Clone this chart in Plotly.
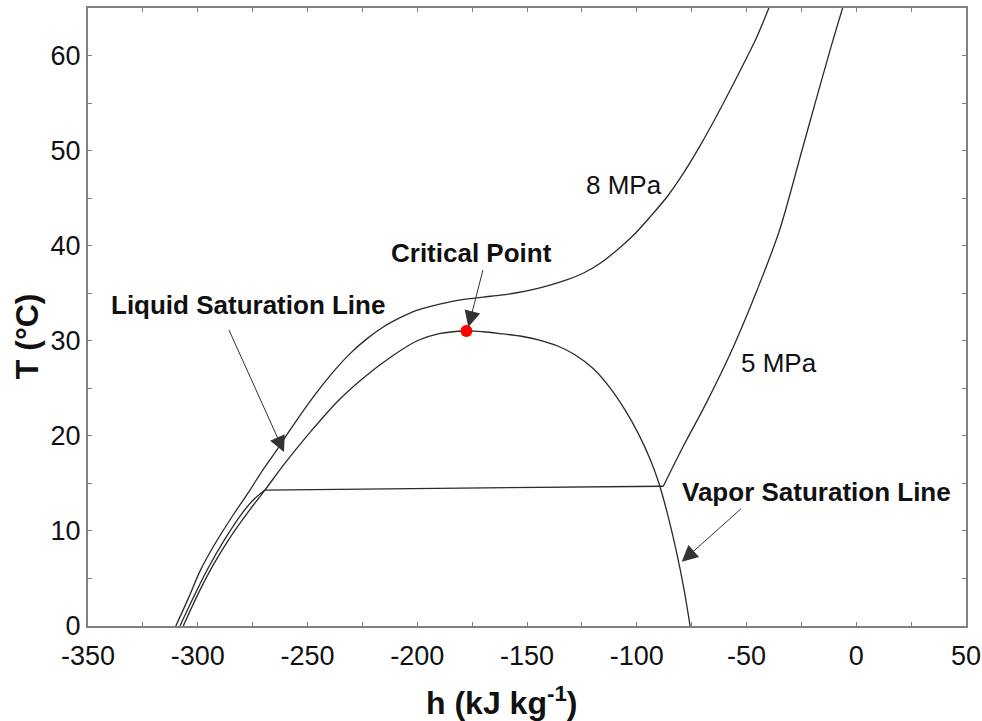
import plotly.graph_objects as go

# Saturation dome (liquid branch -> critical point -> vapor branch)
sat_h = [-306.6, -300, -293, -285, -277, -269.4, -260, -248, -236, -224, -212, -200, -190, -178,
         -170, -162.3, -152, -144, -136, -128, -120, -112, -105, -99, -94, -90, -86, -82,
         -78.5, -75.7]
sat_T = [0, 3.3, 6.4, 9.4, 12.0, 14.3, 17.2, 20.6, 23.7, 26.2, 28.3, 30.0, 30.75, 31.03,
         30.95, 30.76, 30.45, 30.05, 29.45, 28.5, 27.1, 25.0, 22.6, 20.1, 17.6, 15.1, 11.8, 7.9,
         3.9, 0]

# 8 MPa isobar
p8_h = [-310, -304.5, -298.7, -292, -283.8, -276.2, -270.4, -264, -258, -247, -238,
        -230.6, -223, -215.5, -208, -200.3, -192.5, -185.1, -177, -169.9, -162, -154.7, -147,
        -139.5, -132, -124.4, -117, -109.2, -101.5, -94, -86, -78.8, -71.2, -63.5, -56, -50.5,
        -45.4, -39.8]
p8_T = [0, 2.8, 5.9, 8.7, 11.7, 14.3, 16.4, 18.5, 20.6, 24.2, 26.8,
        28.65, 30.2, 31.45, 32.4, 33.2, 33.7, 34.1, 34.4, 34.6, 34.8, 35.05, 35.4,
        35.85, 36.4, 37.1, 38.1, 39.5, 41.1, 43.0, 45.2, 47.6, 50.5, 53.7, 57.0, 59.5,
        61.9, 65.0]

# 5 MPa isobar: liquid branch, two-phase segment, vapor branch
p5_liq_h = [-308.1, -302, -295.5, -288, -280, -274.5, -269.4]
p5_liq_T = [0, 3.0, 6.0, 9.0, 11.8, 13.3, 14.3]
p5_2ph_h = [-269.4, -87.9]
p5_2ph_T = [14.3, 14.7]
p5_vap_h = [-87.9, -78.8, -68, -56, -45.4, -35, -25, -18, -11, -6.2]
p5_vap_T = [14.7, 18.9, 23.6, 29.35, 35.2, 41.6, 49.8, 55.6, 61.3, 65.0]

crit_h = [-177.6]
crit_T = [31.03]

x_ticks = [-350, -300, -250, -200, -150, -100, -50, 0, 50]
x_tick_text = ["-350", "-300", "-250", "-200", "-150", "-100", "-50", "0", "50"]
y_ticks = [0, 10, 20, 30, 40, 50, 60]

line_col = "#2a2a2a"
axis_col = "#808080"
font_fam = "Liberation Sans, Arial, sans-serif"

fig = go.Figure()
curves = [(sat_h, sat_T, "spline"), (p8_h, p8_T, "spline"),
          (p5_liq_h, p5_liq_T, "spline"), (p5_2ph_h, p5_2ph_T, "linear"),
          (p5_vap_h, p5_vap_T, "spline")]
for hh, tt, shp in curves:
    fig.add_trace(go.Scatter(x=hh, y=tt, mode="lines",
                             line=dict(color=line_col, width=1.3, shape=shp, smoothing=0.9),
                             hoverinfo="skip", showlegend=False))
fig.add_trace(go.Scatter(x=crit_h, y=crit_T, mode="markers",
                         marker=dict(color="#ff0000", size=12, line=dict(width=0)),
                         hoverinfo="skip", showlegend=False))

axis_common = dict(showgrid=False, zeroline=False, showline=True, linecolor=axis_col, linewidth=2,
                   mirror="ticks", ticks="inside", ticklen=4, tickcolor=axis_col, tickwidth=1,
                   automargin=False,
                   tickfont=dict(family=font_fam, size=27, color="#111"))

fig.update_xaxes(range=[-350, 50], tickvals=x_ticks, ticktext=x_tick_text, ticklabelstandoff=5,
                 ticklabeloverflow="allow",
                 minor=dict(dtick=25, tick0=-350, ticks="inside", ticklen=4, tickcolor=axis_col),
                 **axis_common)
fig.update_yaxes(range=[0, 65], tickvals=y_ticks,
                 minor=dict(dtick=5, tick0=0, ticks="inside", ticklen=4, tickcolor=axis_col),
                 **axis_common)

bold = dict(family=font_fam, size=26, color="#111")
norm = dict(family=font_fam, size=26, color="#111")
anns = [
    dict(x=-175.1, y=39.2, text="<b>Critical Point</b>", font=bold),
    dict(x=-277.2, y=33.8, text="<b>Liquid Saturation Line</b>", font=bold),
    dict(x=-17.9, y=14.1, text="<b>Vapor Saturation Line</b>", font=bold),
    dict(x=-105.8, y=46.4, text="8 MPa", font=norm),
    dict(x=-35.2, y=27.7, text="5 MPa", font=norm),
]
for a in anns:
    fig.add_annotation(xref="x", yref="y", showarrow=False, xanchor="center", yanchor="middle", **a)

arrows = [
    (-176.7, 31.45, -169.9, 37.6),
    (-260.7, 18.3, -286.1, 31.3),
    (-79.5, 6.76, -51.8, 12.47),
]
for x, y, ax, ay in arrows:
    fig.add_annotation(x=x, y=y, ax=ax, ay=ay, xref="x", yref="y", axref="x", ayref="y",
                       text="", showarrow=True, arrowhead=2, arrowsize=3.2, arrowwidth=1,
                       arrowcolor="#333")

# axis titles
fig.add_annotation(xref="paper", yref="paper", x=0.4715, y=-0.1215, showarrow=False,
                   text="<b>h (kJ kg<sup>-1</sup>)</b>", xanchor="center", yanchor="middle",
                   font=dict(family=font_fam, size=32, color="#111"))
fig.add_annotation(xref="paper", yref="paper", x=-0.0695, y=0.469, showarrow=False,
                   text="<b>T (°C)</b>", textangle=-90, xanchor="center", yanchor="middle",
                   font=dict(family=font_fam, size=32, color="#111"))

fig.update_layout(width=982, height=721, margin=dict(l=88, r=16, t=8, b=95, autoexpand=False),
                  plot_bgcolor="white", paper_bgcolor="white", showlegend=False)

# remove the default page margin so the figure fills the window exactly
fig.write_html("out.html", config={"displayModeBar": False},
               post_script="document.body.style.margin='0';document.body.style.overflow='hidden';")
